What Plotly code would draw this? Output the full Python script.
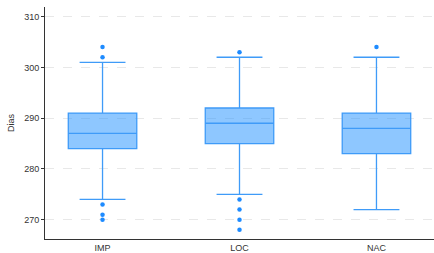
import plotly.graph_objects as go

categories = ["IMP", "LOC", "NAC"]
q1 = [284, 285, 283]
median = [287, 289, 288]
q3 = [291, 292, 291]
lower_whisker = [274, 275, 272]
upper_whisker = [301, 302, 302]
outliers = [[304, 302, 273, 271, 270], [303, 274, 272, 270, 268], [304]]
y_ticks = [270, 280, 290, 300, 310]

line_col = "#3f9bf8"
fill_col = "rgba(30,144,255,0.5)"
pt_col = "#1E8BFF"

fig = go.Figure()
for i, c in enumerate(categories):
    fig.add_trace(go.Box(
        x=[c], q1=[q1[i]], median=[median[i]], q3=[q3[i]],
        lowerfence=[lower_whisker[i]], upperfence=[upper_whisker[i]],
        width=0.5, whiskerwidth=0.67,
        fillcolor=fill_col, line=dict(color=line_col, width=1.3),
        boxpoints=False, showlegend=False, hoverinfo="skip",
    ))
    fig.add_trace(go.Scatter(
        x=[c] * len(outliers[i]), y=outliers[i], mode="markers",
        marker=dict(color=pt_col, size=4.5), showlegend=False, hoverinfo="skip",
    ))

fig.update_layout(
    width=434, height=253,
    margin=dict(l=45, r=0, t=7, b=14),
    plot_bgcolor="white", paper_bgcolor="white",
    font=dict(family="Liberation Sans, Arial, sans-serif", size=9, color="#333333"),
    xaxis=dict(
        type="category", categoryorder="array", categoryarray=categories,
        range=[-0.42, 2.42], showline=True, linecolor="#333333", linewidth=1,
        showgrid=False, ticks="", tickfont=dict(size=9, color="#333333"),
        zeroline=False, automargin=False,
    ),
    yaxis=dict(
        range=[266.2, 311.9], tickvals=y_ticks, showline=True,
        linecolor="#333333", linewidth=1, ticks="outside", ticklen=3,
        tickcolor="#333333", showgrid=True, gridcolor="#e8e8e8", griddash="dash",
        gridwidth=1, zeroline=False, automargin=False,
        title=dict(text="Dias", standoff=8, font=dict(size=9, color="#333333")),
        tickfont=dict(size=9, color="#333333"),
    ),
)

fig.write_html("out.html", config={"displayModeBar": False},
               post_script="document.body.style.margin='0px';")
